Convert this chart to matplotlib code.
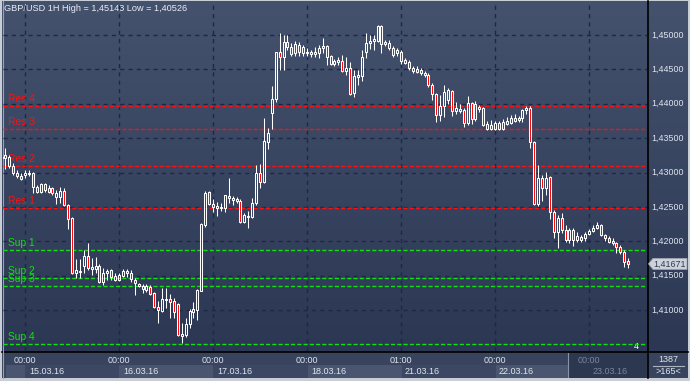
import matplotlib
matplotlib.use('Agg')
import matplotlib.pyplot as plt
import numpy as np
from matplotlib.patches import Rectangle, Polygon
from matplotlib import transforms

plt.rcParams['font.family'] = ['Liberation Sans', 'DejaVu Sans']

# ---------------- data (GBP/USD 1H candles) ----------------
opens = [1.4321, 1.4321, 1.4323, 1.4310, 1.4299, 1.4295, 1.4297, 1.4298, 1.4299, 1.4279,
         1.4272, 1.4275, 1.4278, 1.4278, 1.4264, 1.4264, 1.4273, 1.4253, 1.4234, 1.4154,
         1.4155, 1.4164, 1.4179, 1.4159, 1.4160, 1.4164, 1.4141, 1.4154, 1.4158, 1.4144,
         1.4144, 1.4150, 1.4157, 1.4154, 1.4144, 1.4135, 1.4135, 1.4129, 1.4133, 1.4125,
         1.4104, 1.4099, 1.4115, 1.4116, 1.4113, 1.4109, 1.4062, 1.4064, 1.4080, 1.4097,
         1.4100, 1.4128, 1.4224, 1.4272, 1.4254, 1.4251, 1.4248, 1.4248, 1.4266, 1.4260,
         1.4261, 1.4259, 1.4228, 1.4235, 1.4235, 1.4256, 1.4299, 1.4286, 1.4344, 1.4387,
         1.4407, 1.4475, 1.4468, 1.4490, 1.4472, 1.4474, 1.4485, 1.4483, 1.4474, 1.4472,
         1.4472, 1.4474, 1.4481, 1.4484, 1.4470, 1.4458, 1.4461, 1.4462, 1.4448, 1.4452,
         1.4416, 1.4439, 1.4440, 1.4475, 1.4488, 1.4491, 1.4491, 1.4513, 1.4487, 1.4488,
         1.4481, 1.4474, 1.4475, 1.4464, 1.4461, 1.4452, 1.4446, 1.4449, 1.4445, 1.4442,
         1.4427, 1.4414, 1.4384, 1.4397, 1.4406, 1.4419, 1.4389, 1.4389, 1.4391, 1.4372,
         1.4401, 1.4378, 1.4395, 1.4394, 1.4371, 1.4369, 1.4363, 1.4372, 1.4363, 1.4371,
         1.4372, 1.4379, 1.4376, 1.4379, 1.4391, 1.4394, 1.4344, 1.4254, 1.4292, 1.4278,
         1.4293, 1.4243, 1.4214, 1.4234, 1.4216, 1.4202, 1.4216, 1.4202, 1.4206, 1.4205,
         1.4211, 1.4215, 1.4219, 1.4224, 1.4209, 1.4205, 1.4200, 1.4197, 1.4192, 1.4184,
         1.4171]
highs = [1.4328, 1.4336, 1.4325, 1.4314, 1.4304, 1.4299, 1.4304, 1.4304, 1.4301, 1.4282,
         1.4285, 1.4285, 1.4282, 1.4279, 1.4275, 1.4279, 1.4278, 1.4254, 1.4235, 1.4174,
         1.4174, 1.4187, 1.4197, 1.4176, 1.4177, 1.4167, 1.4161, 1.4160, 1.4160, 1.4154,
         1.4154, 1.4160, 1.4160, 1.4158, 1.4147, 1.4139, 1.4138, 1.4138, 1.4136, 1.4126,
         1.4113, 1.4132, 1.4132, 1.4123, 1.4118, 1.4110, 1.4081, 1.4088, 1.4102, 1.4112,
         1.4130, 1.4227, 1.4273, 1.4273, 1.4261, 1.4257, 1.4256, 1.4268, 1.4292, 1.4266,
         1.4264, 1.4261, 1.4241, 1.4244, 1.4263, 1.4311, 1.4312, 1.4379, 1.4365, 1.4426,
         1.4476, 1.4503, 1.4500, 1.4500, 1.4488, 1.4491, 1.4490, 1.4486, 1.4481, 1.4478,
         1.4483, 1.4485, 1.4496, 1.4485, 1.4471, 1.4465, 1.4468, 1.4471, 1.4468, 1.4461,
         1.4449, 1.4449, 1.4478, 1.4503, 1.4500, 1.4500, 1.45143, 1.45143, 1.4493, 1.4493,
         1.4484, 1.4481, 1.4478, 1.4467, 1.4464, 1.4455, 1.4455, 1.4452, 1.4448, 1.4445,
         1.4430, 1.4416, 1.4413, 1.4427, 1.4423, 1.4420, 1.4403, 1.4400, 1.4394, 1.4411,
         1.4403, 1.4404, 1.4398, 1.4396, 1.4375, 1.4376, 1.4375, 1.4375, 1.4378, 1.4381,
         1.4384, 1.4385, 1.4382, 1.4393, 1.4397, 1.4397, 1.4346, 1.4311, 1.4296, 1.4301,
         1.4295, 1.4246, 1.4238, 1.4241, 1.4224, 1.4219, 1.4219, 1.4213, 1.4209, 1.4213,
         1.4218, 1.4224, 1.4228, 1.4225, 1.4211, 1.4208, 1.4205, 1.4199, 1.4194, 1.4187,
         1.4176]
lows = [1.4304, 1.4305, 1.4307, 1.4296, 1.4292, 1.4289, 1.4292, 1.4295, 1.4270, 1.4270,
        1.4270, 1.4272, 1.4270, 1.4267, 1.4254, 1.4256, 1.4251, 1.4218, 1.4152, 1.4147,
        1.4147, 1.4154, 1.4158, 1.4151, 1.4154, 1.4139, 1.4136, 1.4144, 1.4144, 1.4142,
        1.4142, 1.4148, 1.4148, 1.4141, 1.4122, 1.4133, 1.4125, 1.4126, 1.4122, 1.4103,
        1.4081, 1.4097, 1.4103, 1.4088, 1.4088, 1.4062, 1.40526, 1.4061, 1.4074, 1.4088,
        1.4086, 1.4127, 1.4221, 1.4253, 1.4243, 1.4237, 1.4244, 1.4243, 1.4256, 1.4253,
        1.4256, 1.4227, 1.4226, 1.4219, 1.4234, 1.4253, 1.4278, 1.4285, 1.4334, 1.4363,
        1.4403, 1.4449, 1.4449, 1.4478, 1.4470, 1.4470, 1.4470, 1.4470, 1.4470, 1.4468,
        1.4468, 1.4467, 1.4474, 1.4456, 1.4456, 1.4455, 1.4456, 1.4446, 1.4442, 1.4413,
        1.4410, 1.4427, 1.4433, 1.4467, 1.4480, 1.4478, 1.4490, 1.4474, 1.4484, 1.4478,
        1.4468, 1.4469, 1.4458, 1.4458, 1.4449, 1.4445, 1.4445, 1.4442, 1.4439, 1.4424,
        1.4406, 1.4374, 1.4375, 1.4381, 1.4400, 1.4382, 1.4385, 1.4387, 1.4366, 1.4369,
        1.4371, 1.4375, 1.4388, 1.4367, 1.4362, 1.4362, 1.4362, 1.4362, 1.4362, 1.4369,
        1.4370, 1.4374, 1.4374, 1.4374, 1.4385, 1.4336, 1.4253, 1.4252, 1.4259, 1.4267,
        1.4232, 1.4205, 1.4190, 1.4212, 1.4199, 1.4197, 1.4193, 1.4199, 1.4199, 1.4201,
        1.4209, 1.4213, 1.4218, 1.4208, 1.4200, 1.4197, 1.4194, 1.4183, 1.4182, 1.4162,
        1.4161]
closes = [1.4323, 1.4325, 1.4310, 1.4299, 1.4295, 1.4291, 1.4299, 1.4299, 1.4279, 1.4272,
          1.4283, 1.4283, 1.4272, 1.4270, 1.4270, 1.4273, 1.4253, 1.4232, 1.4154, 1.4158,
          1.4157, 1.4179, 1.4161, 1.4162, 1.4164, 1.4141, 1.4154, 1.4157, 1.4148, 1.4150,
          1.4151, 1.4157, 1.4154, 1.4145, 1.4139, 1.4138, 1.4131, 1.4135, 1.4123, 1.4104,
          1.4100, 1.4116, 1.4116, 1.4112, 1.4097, 1.4064, 1.4065, 1.4080, 1.4099, 1.4102,
          1.4129, 1.4225, 1.4270, 1.4254, 1.4250, 1.4248, 1.4250, 1.4267, 1.4263, 1.4263,
          1.4259, 1.4228, 1.4238, 1.4237, 1.4256, 1.4299, 1.4286, 1.4346, 1.4357, 1.4407,
          1.4475, 1.4468, 1.4490, 1.4483, 1.4483, 1.4487, 1.4475, 1.4474, 1.4476, 1.4475,
          1.4475, 1.4481, 1.4484, 1.4468, 1.4458, 1.4462, 1.4463, 1.4448, 1.4452, 1.4414,
          1.4440, 1.4442, 1.4468, 1.4488, 1.4492, 1.4494, 1.4513, 1.4487, 1.4490, 1.4481,
          1.4471, 1.4478, 1.4462, 1.4459, 1.4452, 1.4448, 1.4451, 1.4445, 1.4442, 1.4427,
          1.4414, 1.4384, 1.4397, 1.4417, 1.4420, 1.4389, 1.4394, 1.4392, 1.4372, 1.4401,
          1.4378, 1.4400, 1.4392, 1.4369, 1.4363, 1.4363, 1.4372, 1.4363, 1.4374, 1.4375,
          1.4379, 1.4375, 1.4379, 1.4391, 1.4394, 1.4344, 1.4254, 1.4292, 1.4278, 1.4292,
          1.4243, 1.4214, 1.4234, 1.4216, 1.4202, 1.4216, 1.4202, 1.4208, 1.4202, 1.4211,
          1.4215, 1.4219, 1.4224, 1.4209, 1.4205, 1.4199, 1.4197, 1.4192, 1.4184, 1.4170,
          1.41671]

level_names = ['Res 4', 'Res 3', 'Res 2', 'Res 1', 'Sup 1', 'Sup 2', 'Sup 3', 'Sup 4']
level_values = [1.43967, 1.43628, 1.43095, 1.42484, 1.41868, 1.41466, 1.41349, 1.40501]

price_ticks = [1.450, 1.445, 1.440, 1.435, 1.430, 1.425, 1.420, 1.415, 1.410]
price_tick_labels = ['1,45000', '1,44500', '1,44000', '1,43500', '1,43000',
                     '1,42500', '1,42000', '1,41500', '1,41000']
time_tick_pos = [6, 30, 54, 78, 102, 126, 150]
time_tick_labels = ['00:00', '00:00', '00:00', '00:00', '01:00', '00:00', '00:00']
date_labels = ['15.03.16', '16.03.16', '17.03.16', '18.03.16', '21.03.16', '22.03.16', '23.03.16']
last_price = 1.41671
last_price_label = '1,41671'
title_text = 'GBP/USD 1H High = 1,45143 Low = 1,40526'

# ---------------- layout ----------------
W, H = 690, 381
fig = plt.figure(figsize=(W / 100, H / 100), dpi=100)
fig.patch.set_facecolor('#c9cdd5')

bg = fig.add_axes([0, 0, 1, 1])
bg.axis('off')

# gradient background for chart and price scale
g = np.linspace(0, 1, 256)[:, None, None]
top_c = np.array([0x45, 0x52, 0x6e]) / 255
bot_c = np.array([0x2b, 0x37, 0x53]) / 255
img = top_c[None, None, :] * (1 - g) + bot_c[None, None, :] * g
bg.imshow(img, extent=[2, 688, 352, 1], aspect='auto', interpolation='bilinear', zorder=0)
bg.set_xlim(0, W)
bg.set_ylim(H, 0)

# bottom time panel
bg.add_patch(Rectangle((2, 352), 686, 26, facecolor='#38435d', edgecolor='none', zorder=1))
cell_edges = [6, 25, 119, 213, 308, 402, 496, 568]
cell_cols = ['#4a5670', '#3c4863', '#4a5670', '#3c4863', '#4a5670', '#3c4863', '#4a5670']
for k in range(len(cell_edges) - 1):
    bg.add_patch(Rectangle((cell_edges[k], 365), cell_edges[k + 1] - cell_edges[k], 13,
                           facecolor=cell_cols[k], edgecolor='none', zorder=1.2))
bg.add_patch(Rectangle((568, 352), 79, 26, facecolor='#2c3750', edgecolor='none', zorder=1.5))
bg.plot([568, 568], [353, 377], color='#8a93a6', lw=0.8, zorder=1.6)
bg.plot([2, 688], [351.5, 351.5], color='black', lw=1.2, zorder=5)
bg.plot([647.5, 647.5], [1, 378], color='black', lw=1.2, zorder=5)
bg.plot([2.5, 2.5], [1, 378], color='#9aa3b5', lw=0.8, zorder=5)

# ---------------- main price axes ----------------
y_top = 1.45480
y_bot = 1.40404
ax = fig.add_axes([3 / W, 1 - 351 / H, 644 / W, 349 / H])
ax.set_facecolor('none')
ax.set_xlim(0.38, 164.8)
ax.set_ylim(y_bot, y_top)
ax.axis('off')

grid_c = '#1b2946'
for p in price_ticks:
    ax.axhline(p, color=grid_c, lw=1.0, ls=(0, (3, 3)), zorder=1, snap=True)
for t in time_tick_pos:
    ax.axvline(t, color=grid_c, lw=1.0, ls=(0, (3, 3)), zorder=1, snap=True)

for name, v in zip(level_names, level_values):
    col = '#ff1010' if name.startswith('Res') else '#10e010'
    ax.axhline(v, color=col, lw=1.0, ls=(0, (3, 1.5)), zorder=2, snap=True)
    ax.annotate(name, xy=(0, v), xycoords=('axes fraction', 'data'),
                xytext=(5, 2), textcoords='offset pixels', color=col,
                fontsize=7.4, ha='left', va='bottom', zorder=3)

bw = 0.51
for i, (o, h, l, c) in enumerate(zip(opens, highs, lows, closes)):
    top = max(o, c)
    bot = min(o, c)
    ax.plot([i, i], [top, h], color='white', lw=0.75, zorder=4, solid_capstyle='butt')
    ax.plot([i, i], [l, bot], color='white', lw=0.75, zorder=4, solid_capstyle='butt')
    if abs(c - o) < 1e-6:
        ax.plot([i - bw / 2, i + bw / 2], [o, o], color='white', lw=0.75, zorder=5)
    else:
        fc = '#ff0000' if c < o else 'none'
        ax.add_patch(Rectangle((i - bw / 2, bot), bw, top - bot, facecolor=fc,
                               edgecolor='white', lw=0.75, zorder=5))

# small "4" marker at the end of the Sup 4 line
bg.text(636, 346.5, '4', fontsize=6.5, color='white', ha='center', va='center', zorder=6)

# title
bg.text(4, 8.5, title_text, fontsize=6.6, color='#e8ecf4', ha='left', va='center', zorder=6)

# price labels
tr_price = transforms.blended_transform_factory(bg.transData, ax.transData)
for p, lab in zip(price_ticks, price_tick_labels):
    bg.text(651, p, lab, transform=tr_price, fontsize=6.4, color='#dfe5ef',
            ha='left', va='center', zorder=6)

# last price tag
y_last_px = H - ax.transData.transform((0, last_price))[1]
tag = Polygon([[648.5, y_last_px], [653, y_last_px - 5.5], [687, y_last_px - 5.5],
               [687, y_last_px + 5.5], [653, y_last_px + 5.5]], closed=True,
              facecolor='#cdd1d9', edgecolor='#9aa2b2', lw=0.6, zorder=6)
bg.add_patch(tag)
bg.text(669.5, y_last_px, last_price_label, fontsize=6.4, color='#2e3a55',
        ha='center', va='center', zorder=7)

# time labels
tr_time = transforms.blended_transform_factory(ax.transData, bg.transData)
tr_date = tr_time + transforms.Affine2D().translate(4, 0)
for k, (t, lab, d) in enumerate(zip(time_tick_pos, time_tick_labels, date_labels)):
    col = '#7b869c' if k == len(time_tick_pos) - 1 else '#dfe5ef'
    bg.text(t, 360.5, lab, transform=tr_time, fontsize=6.5, color=col,
            ha='center', va='center', zorder=6)
    bg.text(t, 371.5, d, transform=tr_date, fontsize=6.5, color=col,
            ha='left', va='center', zorder=6)

# bottom-right corner info
bg.text(668, 360, '1387', fontsize=6.5, color='#dfe5ef', ha='center', va='center', zorder=6)
bg.plot([653, 684], [366, 366], color='#aab2c2', lw=0.8, zorder=6)
bg.text(668, 372, '>165<', fontsize=6.5, color='#dfe5ef', ha='center', va='center', zorder=6)

fig.savefig('out.png', dpi=100, facecolor=fig.get_facecolor())
